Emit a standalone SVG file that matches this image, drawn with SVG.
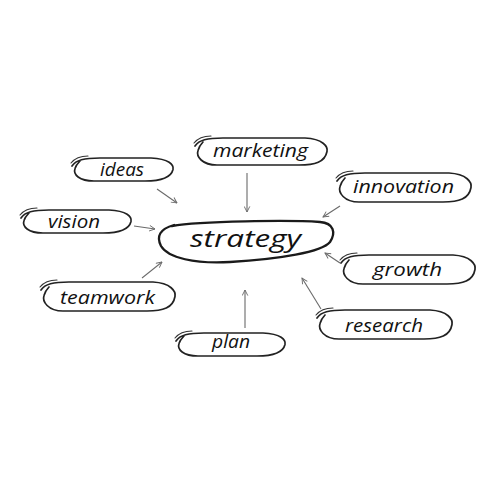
<svg xmlns="http://www.w3.org/2000/svg" width="500" height="496" viewBox="0 0 500 496">
<style>
.shape{fill:none;stroke:#222;stroke-width:1.7;stroke-linecap:round;stroke-linejoin:round}
.tick{fill:none;stroke:#333;stroke-width:1.1;stroke-linecap:round}
.main{fill:none;stroke:#1a1a1a;stroke-width:2.3;stroke-linecap:round}
.lbl{font-family:"Open Sans","DejaVu Sans",sans-serif;font-style:italic;font-size:18px;fill:#111}
.big{font-size:24px}
.conn{stroke:#6a6a6a;stroke-width:1.1;fill:none;marker-end:url(#ah)}
</style>
<defs>
<marker id="ah" viewBox="0 0 10 10" refX="9" refY="5" markerWidth="7" markerHeight="7" orient="auto" markerUnits="userSpaceOnUse">
<path d="M1,1 L9,5 L1,9" fill="none" stroke="#6a6a6a" stroke-width="1.3"/>
</marker>
</defs>
<rect width="500" height="496" fill="#fff"/>
<g id="connectors">
<path class="conn" d="M157,189 L177,203"/>
<path class="conn" d="M134,226 L155,229"/>
<path class="conn" d="M247,173 L247,212"/>
<path class="conn" d="M340,206 L323,217"/>
<path class="conn" d="M142,278 L162,262"/>
<path class="conn" d="M245,328 L245,290"/>
<path class="conn" d="M340,263 L325,253"/>
<path class="conn" d="M321,309 L302,278"/>
</g>
<g id="strategy">
<path class="main" d="M172,226 C200,221 290,220 320,222 C334,223 336,233 330,242 C322,252 280,259 230,262 C195,264 168,258 161,246 C156,236 160,229 174,225"/>
<text class="lbl big" x="190" y="247" textLength="111" lengthAdjust="spacingAndGlyphs">strategy</text>
</g>
<g id="ideas">
<path class="shape" d="M72,166 C76,160 84,158 100,158 L151,158 C169,159 174,164.5 173,169.5 C171,178 161,181 145,181 L94,181 C79,181 73,174.5 75,168.5 C76,165 78,163 80,161"/>
<path class="tick" d="M71,163 C75,158 81,156 88,156"/>
<text class="lbl" x="100" y="176" textLength="44" lengthAdjust="spacingAndGlyphs">ideas</text>
</g>
<g id="vision">
<path class="shape" d="M21,218 C25,212 33,210 49,210 L109,210 C127,211 132,216.5 131,221.5 C129,230 119,233 103,233 L43,233 C28,233 22,226.5 24,220.5 C25,217 27,215 29,213"/>
<path class="tick" d="M20,215 C24,210 30,208 37,208"/>
<text class="lbl" x="48" y="228" textLength="52" lengthAdjust="spacingAndGlyphs">vision</text>
</g>
<g id="marketing">
<path class="shape" d="M195,146 C199,140 207,138 223,138 L305,138 C323,139 328,146.5 327,151.5 C325,162 315,165 299,165 L217,165 C202,165 196,156.5 198,150.5 C199,147 201,144 203,142"/>
<path class="tick" d="M194,143 C198,138 204,136 211,136"/>
<text class="lbl" x="213" y="157" textLength="95" lengthAdjust="spacingAndGlyphs">marketing</text>
</g>
<g id="innovation">
<path class="shape" d="M337,181 C341,175 349,173 365,173 L449,173 C467,174 472,182.5 471,187.5 C469,199 459,202 443,202 L359,202 C344,202 338,192.5 340,186.5 C341,183 343,180 345,178"/>
<path class="tick" d="M336,178 C340,173 346,171 353,171"/>
<text class="lbl" x="353" y="193" textLength="101" lengthAdjust="spacingAndGlyphs">innovation</text>
</g>
<g id="teamwork">
<path class="shape" d="M41,290 C45,284 53,282 69,282 L153,282 C171,283 176,291.5 175,296.5 C173,308 163,311 147,311 L63,311 C48,311 42,301.5 44,295.5 C45,292 47,289 49,287"/>
<path class="tick" d="M40,287 C44,282 50,280 57,280"/>
<text class="lbl" x="60" y="304" textLength="95" lengthAdjust="spacingAndGlyphs">teamwork</text>
</g>
<g id="plan">
<path class="shape" d="M176,341 C180,335 188,333 204,333 L263,333 C281,334 286,339.5 285,344.5 C283,353 273,356 257,356 L198,356 C183,356 177,349.5 179,343.5 C180,340 182,338 184,336"/>
<path class="tick" d="M175,338 C179,333 185,331 192,331"/>
<text class="lbl" x="212" y="348" textLength="38" lengthAdjust="spacingAndGlyphs">plan</text>
</g>
<g id="growth">
<path class="shape" d="M341,263 C345,257 353,255 369,255 L453,255 C471,256 476,264.5 475,269.5 C473,281 463,284 447,284 L363,284 C348,284 342,274.5 344,268.5 C345,265 347,262 349,260"/>
<path class="tick" d="M340,260 C344,255 350,253 357,253"/>
<text class="lbl" x="373" y="276" textLength="69" lengthAdjust="spacingAndGlyphs">growth</text>
</g>
<g id="research">
<path class="shape" d="M317,318 C321,312 329,310 345,310 L430,310 C448,311 453,319.5 452,324.5 C450,336 440,339 424,339 L339,339 C324,339 318,329.5 320,323.5 C321,320 323,317 325,315"/>
<path class="tick" d="M316,315 C320,310 326,308 333,308"/>
<text class="lbl" x="345" y="332" textLength="78" lengthAdjust="spacingAndGlyphs">research</text>
</g>
</svg>
